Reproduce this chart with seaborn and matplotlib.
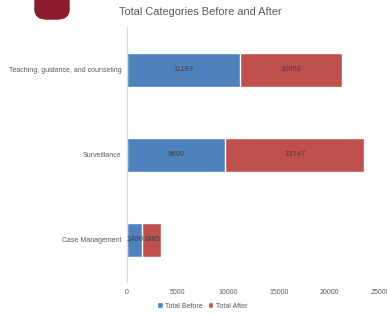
import pandas as pd
import matplotlib
matplotlib.use("Agg")
import matplotlib.pyplot as plt
import seaborn as sns
from matplotlib.patches import FancyBboxPatch

# --- data ---
categories = ["Teaching, guidance, and counseling", "Surveillance", "Case Management"]
total_before = [11183, 9690, 1480]
total_after = [10050, 13747, 1885]

df = pd.DataFrame({"Category": categories, "Before": total_before, "After": total_after})
df["Sum"] = df["Before"] + df["After"]

BLUE = "#4F81BD"
RED = "#C0504D"
GREY = "#595959"

sns.set_style("white")
plt.rcParams["font.family"] = ["Liberation Sans", "DejaVu Sans"]

fig = plt.figure(figsize=(3.87, 3.14), dpi=100)
ax = fig.add_axes([127 / 387, 1 - 282 / 314, 253 / 387, 255 / 314])

# stacked bars: draw the sum in red, then "before" in blue over it
sns.barplot(data=df, y="Category", x="Sum", color=RED, width=0.4, ax=ax,
            saturation=1, label="Total After")
sns.barplot(data=df, y="Category", x="Before", color=BLUE, width=0.4, ax=ax,
            saturation=1, label="Total Before")
if ax.get_legend() is not None:
    ax.get_legend().remove()

red_bars = ax.containers[0]
blue_bars = ax.containers[1]
ax.bar_label(blue_bars, labels=[str(v) for v in total_before], label_type="center",
             fontsize=5.5, color="#404040")
# center of the red segment
for bar, before, after in zip(red_bars, total_before, total_after):
    ax.text(before + after / 2, bar.get_y() + bar.get_height() / 2, str(after),
            ha="center", va="center", fontsize=5.5, color="#404040")

ax.set_xlim(0, 25000)
ax.set_ylim(2.5, -0.5)
ax.set_xticks([0, 5000, 10000, 15000, 20000, 25000])
ax.set_xlabel("")
ax.set_ylabel("")
ax.tick_params(axis="x", labelsize=5, colors=GREY, length=0, pad=5)
ax.tick_params(axis="y", labelsize=5, colors=GREY, length=0, pad=4)

for side in ["top", "right", "bottom"]:
    ax.spines[side].set_visible(False)
ax.spines["left"].set_color("#D9D9D9")
ax.spines["left"].set_linewidth(0.8)

fig.text(200 / 387, 1 - 12 / 314, "Total Categories Before and After",
         ha="center", va="center", fontsize=7.9, color=GREY)

handles, labels = ax.get_legend_handles_labels()
order = [labels.index("Total Before"), labels.index("Total After")]
fig.legend([handles[i] for i in order], [labels[i] for i in order],
           loc="center", bbox_to_anchor=(202 / 387, 1 - 306 / 314), ncol=2,
           frameon=False, fontsize=5, handlelength=0.8, handleheight=0.8,
           columnspacing=0.8, handletextpad=0.3, labelcolor=GREY)

# maroon logo fragment at top left
logo = FancyBboxPatch((35 / 387, 1 - 19 / 314), 34 / 387, 30 / 314,
                      boxstyle="round,pad=0,rounding_size=0.03",
                      transform=fig.transFigure, color="#8A1C2E", clip_on=False)
fig.patches.append(logo)

fig.savefig("out.png", dpi=100)
